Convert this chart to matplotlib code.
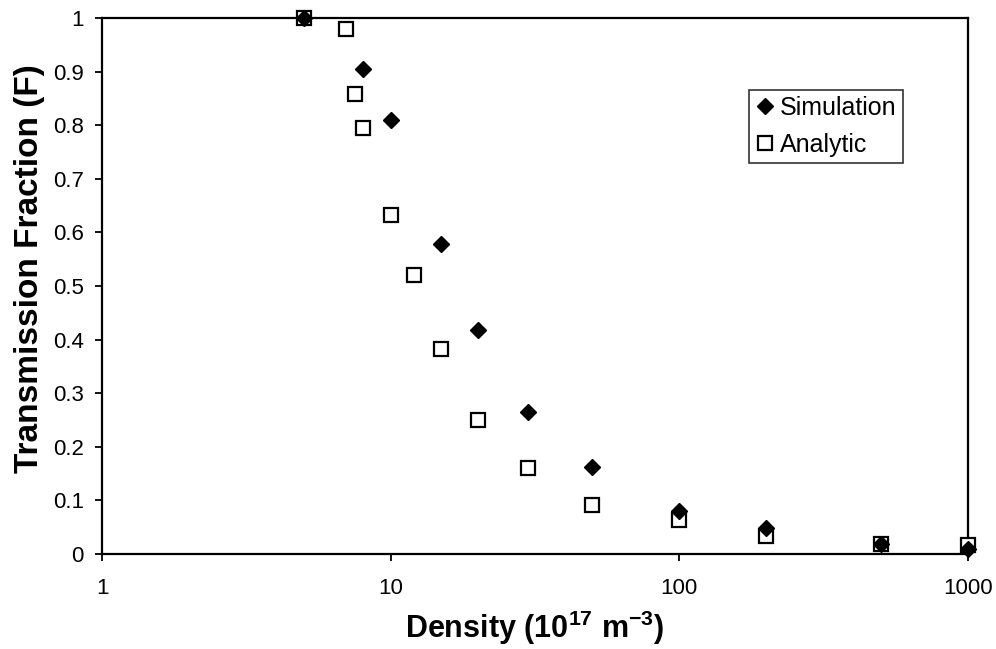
import matplotlib.pyplot as plt
from matplotlib.ticker import FixedLocator, FixedFormatter, NullLocator

plt.rcParams['font.family'] = ['Liberation Sans', 'DejaVu Sans']
plt.rcParams['mathtext.fontset'] = 'custom'
plt.rcParams['mathtext.rm'] = 'Liberation Sans:bold'
plt.rcParams['mathtext.bf'] = 'Liberation Sans:bold'
plt.rcParams['mathtext.default'] = 'bf'

# Transmission fraction vs. density (10^17 m^-3)
sim_density = [5, 8, 10, 15, 20, 30, 50, 100, 200, 500, 1000]
sim_fraction = [1.0, 0.905, 0.81, 0.578, 0.418, 0.265, 0.163, 0.08, 0.048, 0.018, 0.01]

ana_density = [5, 7, 7.5, 8, 10, 12, 15, 20, 30, 50, 100, 200, 500, 1000]
ana_fraction = [1.0, 0.98, 0.858, 0.794, 0.632, 0.52, 0.382, 0.25, 0.16, 0.092,
                0.063, 0.034, 0.018, 0.016]

x_ticks = [1, 10, 100, 1000]
x_tick_labels = ['1', '10', '100', '1000']
y_ticks = [0, 0.1, 0.2, 0.3, 0.4, 0.5, 0.6, 0.7, 0.8, 0.9, 1.0]
y_tick_labels = ['0', '0.1', '0.2', '0.3', '0.4', '0.5', '0.6', '0.7', '0.8', '0.9', '1']

fig = plt.figure(figsize=(9.96, 6.49), dpi=100)
ax = fig.add_axes([102 / 996, 95 / 649, 866 / 996, 536 / 649])

ax.plot(sim_density, sim_fraction, linestyle='none', marker='D', ms=8.4,
        color='black', label='Simulation', clip_on=False, zorder=4)
ax.plot(ana_density, ana_fraction, linestyle='none', marker='s', ms=10,
        mfc='white', mec='black', mew=1.6, label='Analytic', clip_on=False, zorder=3)

ax.set_xscale('log')
ax.set_xlim(1, 1000)
ax.set_ylim(0, 1)

ax.xaxis.set_major_locator(FixedLocator(x_ticks))
ax.xaxis.set_major_formatter(FixedFormatter(x_tick_labels))
ax.xaxis.set_minor_locator(NullLocator())
ax.yaxis.set_major_locator(FixedLocator(y_ticks))
ax.yaxis.set_major_formatter(FixedFormatter(y_tick_labels))

ax.tick_params(axis='both', direction='out', length=5, width=1.3,
               labelsize=16, colors='black')
ax.tick_params(axis='x', pad=12)
ax.tick_params(axis='y', pad=8)

for spine in ax.spines.values():
    spine.set_linewidth(1.6)
    spine.set_color('black')

ax.set_xlabel('Density (10$^{17}$ m$^{-3}$)', fontsize=22, fontweight='bold', labelpad=7)
ax.set_ylabel('Transmission Fraction (F)', fontsize=24, fontweight='bold', labelpad=6)
ax.yaxis.label.set_y(0.532)

leg = ax.legend(loc='upper left', bbox_to_anchor=(0.747, 0.866), fontsize=18,
                frameon=True, fancybox=False, handletextpad=0.2, handlelength=0.8,
                borderpad=0.25, labelspacing=0.5, borderaxespad=0)
leg.get_frame().set_edgecolor('black')
leg.get_frame().set_linewidth(1.2)

fig.savefig('out.png', dpi=100)
